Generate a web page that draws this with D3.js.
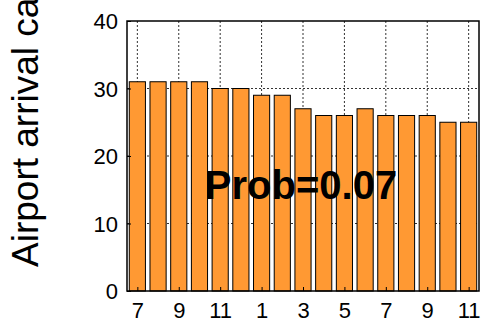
<!DOCTYPE html>
<html lang="en">
<head>
    <meta charset="UTF-8">
    <script src="https://cdn.jsdelivr.net/npm/d3@7"></script>
    <title>Airport arrival capacity</title>
    <style>
        body { margin: 0; background: #fff; }
        svg text { font-family: "Liberation Sans", Arial, sans-serif; fill: #000; }
        .grid line { stroke: #333; stroke-width: 1; stroke-dasharray: 2,2; }
        .bar { fill: #ff9933; stroke: #000; stroke-width: 1; }
    </style>
</head>
<body>
<svg width="482" height="322"></svg>
<script>
    // month of each bar (Jul .. Nov of the following year)
    let months = [7, 8, 9, 10, 11, 12, 1, 2, 3, 4, 5, 6, 7, 8, 9, 10, 11]
    let capacity = [31, 31, 31, 31, 30, 30, 29, 29, 27, 26, 26, 27, 26, 26, 26, 25, 25]
    let yTicks = [0, 10, 20, 30, 40]
    let xTickIdx = [1, 3, 5, 7, 9, 11, 13, 15, 17]
    let probLabel = 'Prob=0.07'

    let plotL = 127, plotR = 479, plotT = 21, plotB = 291

    let svg = d3.select('svg')

    let x = d3.scaleLinear().domain([0.5, capacity.length + 0.5]).range([plotL, plotR])
    let y = d3.scaleLinear().domain([0, 40]).range([plotB, plotT])

    // grid
    let grid = svg.append('g').attr('class', 'grid')
    grid.selectAll('line.v')
        .data(xTickIdx)
        .enter().append('line')
        .attr('x1', d => x(d)).attr('x2', d => x(d))
        .attr('y1', plotT).attr('y2', plotB)
    grid.selectAll('line.h')
        .data(yTicks.filter(d => d > 0 && d < 40))
        .enter().append('line')
        .attr('x1', plotL).attr('x2', plotR)
        .attr('y1', d => y(d)).attr('y2', d => y(d))

    // bars
    let bw = (x(2) - x(1)) * 0.78
    svg.append('g').selectAll('rect')
        .data(capacity)
        .enter().append('rect')
        .attr('class', 'bar')
        .attr('x', (d, i) => x(i + 1) - bw / 2)
        .attr('width', bw)
        .attr('y', d => y(d))
        .attr('height', d => y(0) - y(d))

    // axes (ticks pointing inward)
    let yAxis = d3.axisLeft(y).tickValues(yTicks).tickSizeInner(-4).tickSizeOuter(0).tickPadding(9)
    let gy = svg.append('g').attr('transform', `translate(${plotL},0)`).call(yAxis)
    gy.selectAll('text').style('font-size', '22px').attr('dy', '0.36em')

    let xAxis = d3.axisBottom(x).tickValues(xTickIdx)
        .tickFormat(d => months[d - 1]).tickSizeInner(-4).tickSizeOuter(0).tickPadding(11)
    let gx = svg.append('g').attr('transform', `translate(0,${plotB})`).call(xAxis)
    gx.selectAll('text').style('font-size', '22px')

    svg.selectAll('.domain').remove()
    svg.selectAll('.tick line').attr('stroke', '#000')

    // box
    svg.append('rect')
        .attr('x', plotL).attr('y', plotT)
        .attr('width', plotR - plotL).attr('height', plotB - plotT)
        .attr('fill', 'none').attr('stroke', '#000').attr('stroke-width', 1.5)

    // annotation
    svg.append('text')
        .attr('x', 301).attr('y', 199)
        .attr('text-anchor', 'middle')
        .style('font-size', '40px').style('font-weight', 'bold')
        .text(probLabel)

    // y label
    svg.append('text')
        .attr('transform', 'translate(38,267) rotate(-90)')
        .style('font-size', '37px')
        .text('Airport arrival capacity')
</script>
</body>
</html>
